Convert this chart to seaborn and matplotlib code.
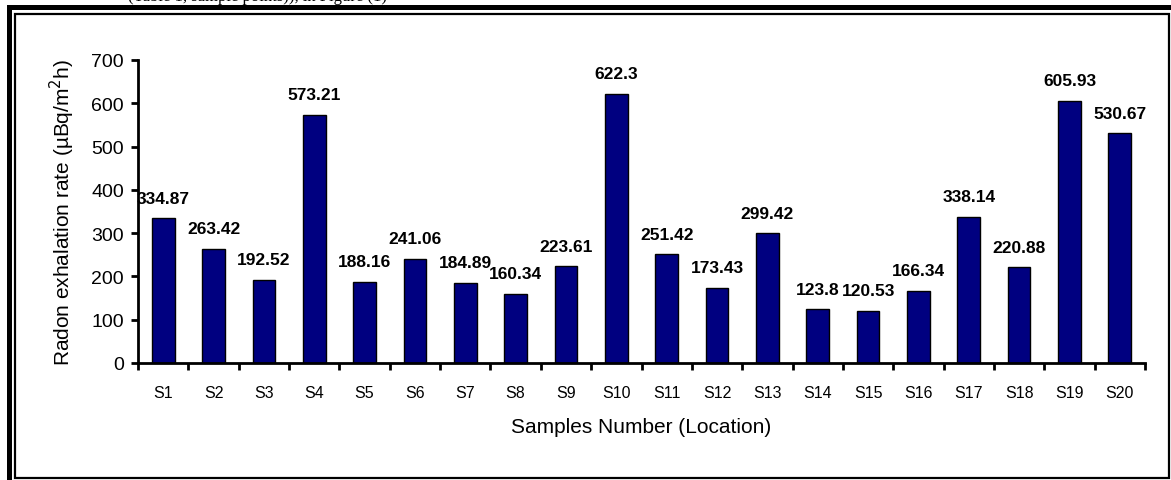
import matplotlib
matplotlib.use("Agg")
import matplotlib.pyplot as plt
import seaborn as sns
import pandas as pd
from matplotlib.lines import Line2D
from matplotlib.patches import Rectangle

samples = [f"S{i}" for i in range(1, 21)]
values = [334.87, 263.42, 192.52, 573.21, 188.16, 241.06, 184.89, 160.34, 223.61, 622.3,
          251.42, 173.43, 299.42, 123.8, 120.53, 166.34, 338.14, 220.88, 605.93, 530.67]
labels = ["334.87", "263.42", "192.52", "573.21", "188.16", "241.06", "184.89", "160.34",
          "223.61", "622.3", "251.42", "173.43", "299.42", "123.8", "120.53", "166.34",
          "338.14", "220.88", "605.93", "530.67"]
yticks = [0, 100, 200, 300, 400, 500, 600, 700]

df = pd.DataFrame({"Sample": samples, "Rate": values})

sns.set_theme(style="white")
plt.rcParams["font.family"] = ["Liberation Sans", "DejaVu Sans"]

W, H = 1171, 481
fig = plt.figure(figsize=(W / 100, H / 100), dpi=100)
ax = fig.add_axes([138 / W, (H - 364) / H, (1145 - 138) / W, (364 - 61) / H])

sns.barplot(data=df, x="Sample", y="Rate", color="#000080", saturation=1,
            width=0.45, edgecolor="black", linewidth=1.0, ax=ax)

ax.set_ylim(0, 700)
ax.set_xlim(-0.5, len(samples) - 0.5)
ax.set_yticks(yticks)
ax.set_yticklabels([str(t) for t in yticks], fontsize=14)

for i, (v, lab) in enumerate(zip(values, labels)):
    ax.annotate(lab, (i, v), xytext=(0, 9), textcoords="offset points",
                ha="center", va="bottom", fontsize=12.5, fontweight="bold", color="black")

for s in ["top", "right"]:
    ax.spines[s].set_visible(False)
for s in ["left", "bottom"]:
    ax.spines[s].set_color("black")
    ax.spines[s].set_linewidth(2)

ax.tick_params(axis="y", which="major", direction="out", length=5, width=2,
               color="black", left=True, pad=5, labelcolor="black")
ax.tick_params(axis="x", which="major", length=0, pad=16, labelsize=11.5, labelcolor="black")
ax.set_xticks([i - 0.5 for i in range(len(samples) + 1)], minor=True)
ax.tick_params(axis="x", which="minor", direction="out", length=5, width=2,
               color="black", bottom=True)

ax.set_xlabel("Samples Number (Location)", fontsize=15, color="black", labelpad=12)
ax.set_ylabel("Radon exhalation rate (µBq/m$^2$h)", fontsize=15, color="black", labelpad=10)

# Page frame (thick outer, thin inner)
fig.add_artist(Line2D([8.5 / W, 1.0], [1 - 7.5 / H, 1 - 7.5 / H], transform=fig.transFigure,
                      color="black", linewidth=3.6, solid_capstyle="projecting"))
fig.add_artist(Line2D([8.5 / W, 8.5 / W], [0, 1 - 7.5 / H], transform=fig.transFigure,
                      color="black", linewidth=3.6, solid_capstyle="projecting"))
fig.add_artist(Rectangle((14.5 / W, 1 - 479 / H), (1169 - 14.5) / W, (479 - 15) / H,
                         transform=fig.transFigure, fill=False, edgecolor="black", linewidth=1.6))

# clipped text line from the page above (cut off at the top edge, as in the reference)
fig.text(128 / W, 1 - 1 / H, "(Table 1, sample points)), in Figure (1)", ha="left", va="baseline",
         fontsize=12, family=["Liberation Serif", "DejaVu Serif"], color="black")

fig.savefig("out.png", dpi=100, facecolor="white")
